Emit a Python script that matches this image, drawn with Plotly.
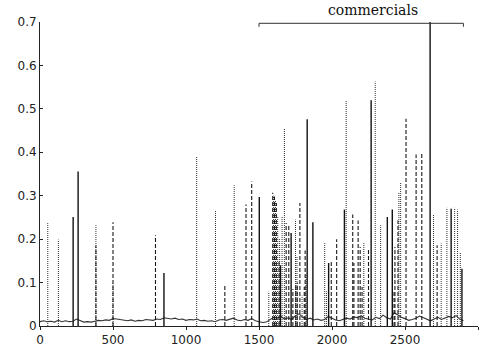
import plotly.graph_objects as go

# ---------------- data ----------------
frame_step = 25
baseline = [0.010, 0.012, 0.010, 0.011, 0.009, 0.013, 0.010, 0.012, 0.010, 0.011,
            0.016, 0.012, 0.009, 0.010, 0.009, 0.011, 0.013, 0.012, 0.014, 0.013,
            0.017, 0.016, 0.015, 0.013, 0.012, 0.014, 0.011, 0.013, 0.012, 0.015,
            0.014, 0.013, 0.016, 0.015, 0.019, 0.017, 0.016, 0.018, 0.015, 0.016,
            0.013, 0.015, 0.014, 0.016, 0.012, 0.013, 0.011, 0.012, 0.010, 0.014,
            0.015, 0.013, 0.016, 0.018, 0.014, 0.012, 0.015, 0.013, 0.017, 0.012,
            0.010, 0.008, 0.009, 0.014, 0.020, 0.018, 0.022, 0.016, 0.019, 0.015,
            0.024, 0.028, 0.020, 0.015, 0.018, 0.014, 0.016, 0.013, 0.015, 0.022,
            0.017, 0.014, 0.012, 0.015, 0.018, 0.016, 0.021, 0.019, 0.024, 0.018,
            0.016, 0.014, 0.020, 0.017, 0.025, 0.019, 0.016, 0.030, 0.026, 0.020,
            0.017, 0.013, 0.015, 0.018, 0.023, 0.019, 0.015, 0.012, 0.016, 0.020,
            0.015, 0.018, 0.022, 0.019, 0.024, 0.016, 0.012]
baseline_frames = [i * frame_step for i in range(len(baseline))]

solid_frames = [227, 261, 849, 1502, 1647, 1720, 1830, 1869, 1977, 2085,
                2268, 2379, 2413, 2672, 2816, 2890]
solid_values = [0.251, 0.356, 0.122, 0.297, 0.140, 0.214, 0.476, 0.239, 0.145, 0.268,
                0.520, 0.251, 0.268, 0.700, 0.270, 0.132]

dashed_frames = [383, 500, 791, 1266, 1411, 1450, 1594, 1606, 1619, 1637,
                 1686, 1704, 1732, 1752, 1762, 1780, 1810,
                 1816, 1995, 2032, 2142, 2150, 2179, 2193, 2206, 2250, 2425,
                 2431, 2452, 2507, 2576, 2615, 2720]
dashed_values = [0.185, 0.239, 0.209, 0.096, 0.280, 0.333, 0.307, 0.298, 0.283, 0.150,
                 0.237, 0.232, 0.085, 0.094, 0.100, 0.283, 0.090,
                 0.174, 0.150, 0.200, 0.257, 0.145, 0.243, 0.182, 0.090, 0.176, 0.080,
                 0.182, 0.243, 0.477, 0.395, 0.400, 0.186]

dotted_frames = [53, 126, 383, 500, 1073, 1202, 1330, 1567, 1600, 1613, 1628,
                 1641, 1658, 1674, 1750, 1760, 1795, 1822, 1950, 1962, 2097,
                 2218, 2296, 2333, 2458, 2470, 2695, 2748, 2787, 2840, 2860,
                 2879]
dotted_values = [0.237, 0.199, 0.232, 0.098, 0.390, 0.266, 0.324, 0.079, 0.300, 0.290, 0.252,
                 0.200, 0.252, 0.456, 0.245, 0.160, 0.070, 0.120, 0.191, 0.080, 0.520,
                 0.191, 0.563, 0.232, 0.308, 0.331, 0.256, 0.190, 0.272, 0.272, 0.268,
                 0.169]

x_ticks = [0, 500, 1000, 1500, 2000, 2500, 3000]
y_ticks = [0, 0.1, 0.2, 0.3, 0.4, 0.5, 0.6, 0.7]
y_tick_labels = ["0", "0.1", "0.2", "0.3", "0.4", "0.5", "0.6", "0.7"]

commercial_start = 1500
commercial_end = 2900
commercial_label = "commercials"


def stems(xs, ys, base=0.0):
    X, Y = [], []
    for x, y in zip(xs, ys):
        X += [x, x, None]
        Y += [base, y, None]
    return X, Y


fig = go.Figure()

fig.add_trace(go.Scatter(x=baseline_frames, y=baseline, mode="lines",
                         line=dict(color="#333333", width=1.1), showlegend=False,
                         hoverinfo="skip"))

sx, sy = stems(dotted_frames, dotted_values)
fig.add_trace(go.Scatter(x=sx, y=sy, mode="lines",
                         line=dict(color="#333333", width=1, dash="1px,1px"),
                         showlegend=False, hoverinfo="skip"))

sx, sy = stems(dashed_frames, dashed_values)
fig.add_trace(go.Scatter(x=sx, y=sy, mode="lines",
                         line=dict(color="#1a1a1a", width=1.1, dash="4px,2px"),
                         showlegend=False, hoverinfo="skip"))

sx, sy = stems(solid_frames, solid_values)
fig.add_trace(go.Scatter(x=sx, y=sy, mode="lines",
                         line=dict(color="#111111", width=1.4),
                         showlegend=False, hoverinfo="skip"))

# bracket for the commercials segment
bracket_y = 0.697
bracket_tick = 0.008
fig.add_shape(type="line", xref="x", yref="y", x0=commercial_start, x1=commercial_end,
              y0=bracket_y, y1=bracket_y, line=dict(color="#333333", width=1))
fig.add_shape(type="line", xref="x", yref="y", x0=commercial_start, x1=commercial_start,
              y0=bracket_y, y1=bracket_y - bracket_tick, line=dict(color="#333333", width=1))
fig.add_shape(type="line", xref="x", yref="y", x0=commercial_end, x1=commercial_end,
              y0=bracket_y, y1=bracket_y - bracket_tick, line=dict(color="#333333", width=1))

fig.add_annotation(x=(commercial_start + commercial_end) / 2 + 80, y=0.7, xref="x", yref="y",
                   text=commercial_label, showarrow=False, yanchor="bottom", yshift=2,
                   font=dict(family="DejaVu Serif", size=14, color="#111111"))

axis_font = dict(family="DejaVu Sans", size=12, color="#222222")
fig.update_layout(
    width=493, height=347,
    margin=dict(l=40, r=15, t=22, b=21),
    paper_bgcolor="white", plot_bgcolor="white",
    font=axis_font,
    xaxis=dict(range=[0, 3000], tickvals=x_ticks, showline=True, linecolor="#222222",
               linewidth=1, ticks="outside", ticklen=3, tickcolor="#222222",
               showgrid=False, zeroline=False, tickfont=axis_font, automargin=False),
    yaxis=dict(range=[0, 0.7], tickvals=y_ticks, ticktext=y_tick_labels, showline=True,
               linecolor="#222222", linewidth=1, ticks="inside", ticklen=3,
               tickcolor="#222222", showgrid=False, zeroline=False, tickfont=axis_font,
               automargin=False),
)

fig.write_html("out.html", config={"displayModeBar": False},
               post_script="document.body.style.margin='0';document.body.style.overflow='hidden';")
